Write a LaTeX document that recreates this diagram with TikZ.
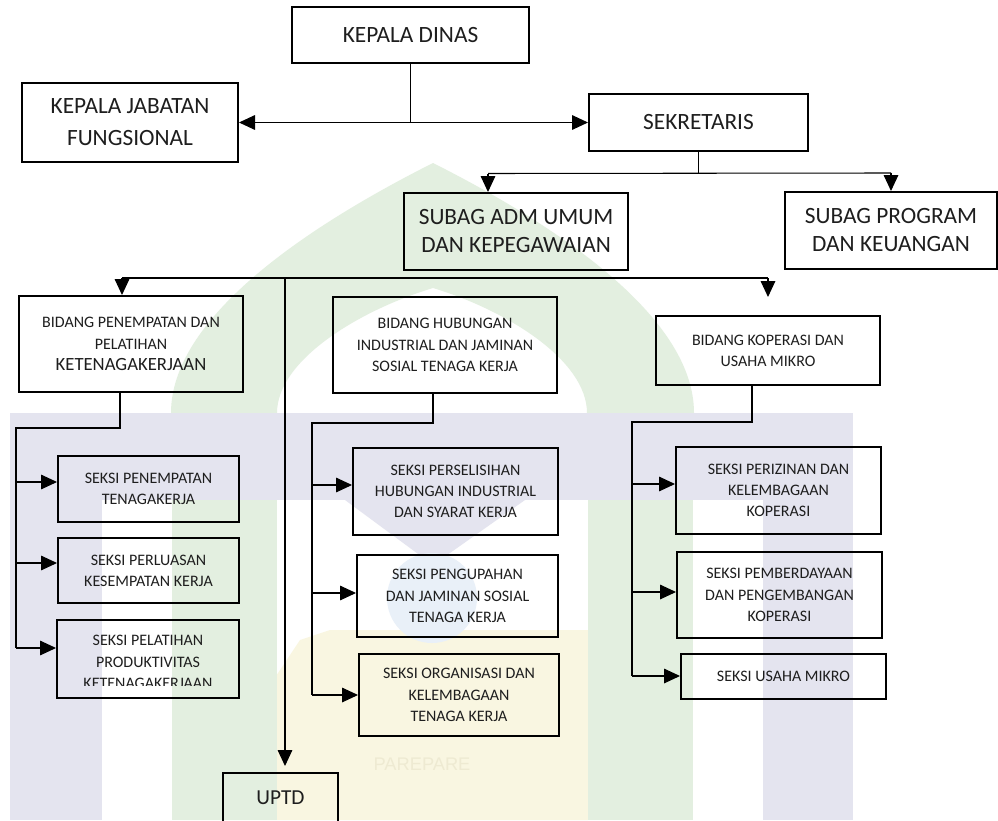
\documentclass[tikz,border=0pt]{standalone}
\usepackage{fontspec}
\setmainfont{Carlito}
\newfontfamily\wmfont{Liberation Sans}
\usetikzlibrary{arrows.meta,calc}
\definecolor{wmgreen}{RGB}{227,239,224}
\definecolor{wmblue}{RGB}{228,228,239}
\definecolor{wmyellow}{RGB}{249,246,225}
\definecolor{wmglobe}{RGB}{233,240,248}
\definecolor{wmtext}{RGB}{238,234,210}
\definecolor{txt}{RGB}{30,30,30}
\begin{document}
\begin{tikzpicture}[x=0.75pt,y=-0.75pt,
  box/.style={draw=black,line width=1.5pt,align=center,inner sep=0pt,text=txt},
  big/.style={font=\fontsize{17.5}{24}\selectfont},
  bigb/.style={font=\fontsize{17.5}{21}\selectfont},
  bid/.style={font=\fontsize{12}{16.2}\selectfont},
  sek/.style={font=\fontsize{12}{15.9}\selectfont},
  conn/.style={draw=black,line width=0.8pt},
  arr/.style={conn,-{Triangle[length=12pt,width=11pt]}},
]
\useasboundingbox (0,0) rectangle (998,820);
\fill[white] (0,0) rectangle (998,820);

% ---- faint watermark ----
\fill[wmyellow] (180,820) -- (300,640) -- (330,630) -- (588,630) -- (588,820) -- cycle;
\fill[wmgreen] (171,413) .. controls (171,320) and (300,230) .. (433,163)
  .. controls (566,230) and (694,320) .. (694,413) -- (587,413)
  .. controls (587,360) and (506,310) .. (433,288)
  .. controls (360,310) and (277,360) .. (277,413) -- cycle;
\fill[wmgreen] (172,500) rectangle (277,820);
\fill[wmgreen] (588,500) rectangle (693,820);
\fill[wmblue] (10,413) rectangle (853,500);
\fill[wmblue] (10,500) rectangle (102,820);
\fill[wmblue] (763,500) rectangle (853,820);
\fill[wmblue] (345,500) -- (525,500) -- (433,565) -- cycle;
\fill[wmglobe] (432,598) circle (45);
\node[font=\wmfont\fontsize{13.7}{16}\selectfont,text=wmtext] (wm) at (422,764) {PAREPARE};

% ---- boxes ----
\node[box,big,minimum width=177.75pt,minimum height=42pt] (KD) at (410.5,35) {KEPALA DINAS};
\node[box,big,minimum width=162pt,minimum height=59.25pt] (KJF) at (130,122.5) {KEPALA JABATAN\\FUNGSIONAL};
\node[box,big,minimum width=164.25pt,minimum height=42.75pt] (SEK) at (698.5,122.5) {SEKRETARIS};
\node[box,bigb,minimum width=168pt,minimum height=57.75pt] (ADM) at (516,231.5) {SUBAG ADM UMUM\\DAN KEPEGAWAIAN};
\node[box,bigb,minimum width=159pt,minimum height=57.75pt] (PROG) at (891,230.5) {SUBAG PROGRAM\\DAN KEUANGAN};

\node[box,bid,minimum width=168pt,minimum height=72pt] (BP) at (131,344) {BIDANG PENEMPATAN DAN\\PELATIHAN\\{\fontsize{14}{16.2}\selectfont KETENAGAKERJAAN}};
\node[box,sek,minimum width=168pt,minimum height=72pt] (BH) at (445,345) {BIDANG HUBUNGAN\\INDUSTRIAL DAN JAMINAN\\SOSIAL TENAGA KERJA};
\node[box,sek,minimum width=168pt,minimum height=51.75pt] (BK) at (768,350.5) {BIDANG KOPERASI DAN\\USAHA MIKRO};

\node[box,sek,minimum width=135.75pt,minimum height=49.5pt] (S1) at (148.5,489) {SEKSI PENEMPATAN\\TENAGAKERJA};
\node[box,sek,minimum width=135.75pt,minimum height=48.75pt] (S2) at (148.5,570.5) {SEKSI PERLUASAN\\KESEMPATAN KERJA};
\node[box,minimum width=136.5pt,minimum height=58.5pt] (S3) at (148,659) {};
\coordinate (s3c) at (239,685.5);
\begin{scope}
  \clip (S3.north west) rectangle (s3c);
  \node[sek,align=center,inner sep=0pt,text=txt] (S3t) at (148,662) {SEKSI PELATIHAN\\PRODUKTIVITAS\\KETENAGAKERJAAN};
\end{scope}

\node[box,sek,minimum width=153.75pt,minimum height=65.25pt] (H1) at (455.5,491.5) {SEKSI PERSELISIHAN\\HUBUNGAN INDUSTRIAL\\DAN SYARAT KERJA};
\node[box,sek,minimum width=150.75pt,minimum height=61.5pt] (H2) at (457.5,596) {SEKSI PENGUPAHAN\\DAN JAMINAN SOSIAL\\TENAGA KERJA};
\node[box,sek,minimum width=150pt,minimum height=61.5pt] (H3) at (459,695) {SEKSI ORGANISASI DAN\\KELEMBAGAAN\\TENAGA KERJA};

\node[box,sek,minimum width=153.75pt,minimum height=65.25pt] (K1) at (778.5,490.5) {SEKSI PERIZINAN DAN\\KELEMBAGAAN\\KOPERASI};
\node[box,sek,minimum width=153.75pt,minimum height=64.5pt] (K2) at (779.5,595) {SEKSI PEMBERDAYAAN\\DAN PENGEMBANGAN\\KOPERASI};
\node[box,sek,minimum width=153.75pt,minimum height=33.75pt] (K3) at (783.5,676.5) {SEKSI USAHA MIKRO};

\node[box,font=\fontsize{16}{19}\selectfont,minimum width=86.25pt,minimum height=37.5pt] (UPTD) at (280.5,798) {UPTD};

% ---- connectors ----
\coordinate (j1) at (KD.south |- KJF.east);
\draw[conn] (KD.south) -- (j1);
\draw[arr] (j1) -- (KJF.east);
\draw[arr] (j1) -- (j1 -| SEK.west);

\coordinate (s1) at ($(SEK.south)+(0,21)$);
\coordinate (sa) at (488,173.5);
\coordinate (sb) at (PROG.north |- s1);
\draw[conn] (SEK.south) -- (s1);
\draw[conn] (sa) -- (sb);
\draw[arr] (sa) -- (sa |- ADM.north);
\draw[arr] (sb) -- (PROG.north);

\coordinate (b0) at (122,278);
\coordinate (b1) at (285,278);
\coordinate (b2) at (768,278);
\coordinate (bkt) at (768,297);
\coordinate (ut) at (285,766);
\draw[conn] (b0) -- (b2);
\draw[arr] (b0) -- (b0 |- BP.north);
\draw[arr] (b1) -- (ut);
\draw[arr] (b2) -- (bkt);

\coordinate (pb) at ($(BP.south)+(-11,0)$);
\coordinate (pl) at (16,428);
\coordinate (p1) at (16,482);
\coordinate (p2) at (16,563);
\coordinate (p3) at (16,648);
\draw[conn] (pb) |- (pl) -- (p3);
\draw[arr] (p1) -- (p1 -| S1.west);
\draw[arr] (p2) -- (p2 -| S2.west);
\draw[arr] (p3) -- (p3 -| S3.west);

\coordinate (hb) at ($(BH.south)+(-12,0)$);
\coordinate (hl) at (312,423);
\coordinate (h1) at (312,485);
\coordinate (h2) at (312,593);
\coordinate (h3) at (312,695);
\draw[conn] (hb) |- (hl) -- (h3);
\draw[arr] (h1) -- (h1 -| H1.west);
\draw[arr] (h2) -- (h2 -| H2.west);
\draw[arr] (h3) -- (h3 -| H3.west);

\coordinate (kb) at ($(BK.south)+(-16,0)$);
\coordinate (kl) at (632,422);
\coordinate (k1) at (632,484);
\coordinate (k2) at (632,592);
\coordinate (k3) at (632,676);
\draw[conn] (kb) |- (kl) -- (k3);
\draw[arr] (k1) -- (k1 -| K1.west);
\draw[arr] (k2) -- (k2 -| K2.west);
\draw[arr] (k3) -- (k3 -| K3.west);
\end{tikzpicture}
\end{document}
